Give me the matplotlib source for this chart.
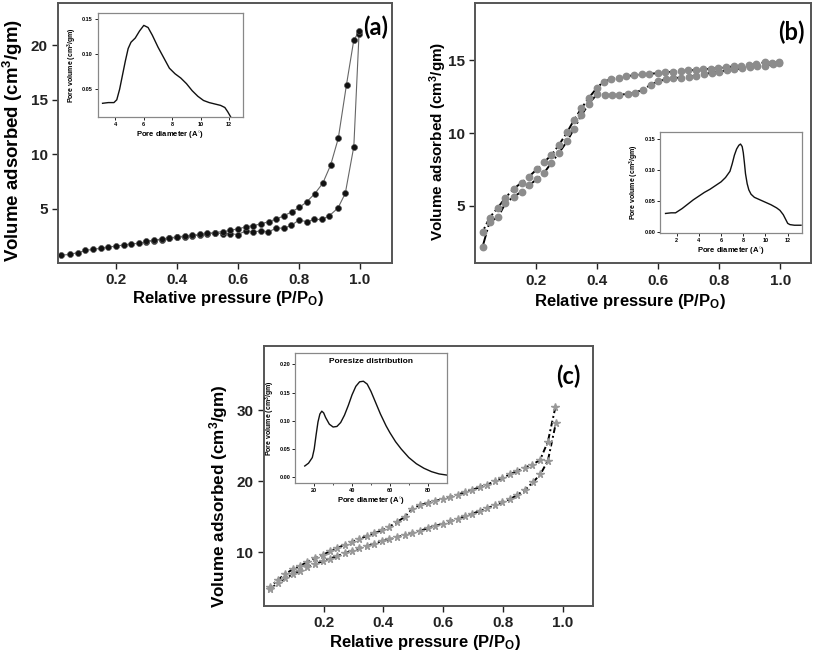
import numpy as np
import matplotlib.pyplot as plt

plt.rcParams['font.family'] = ['Liberation Sans', 'DejaVu Sans']
plt.rcParams['mathtext.fontset'] = 'custom'
plt.rcParams['mathtext.rm'] = 'Liberation Sans:bold'
plt.rcParams['mathtext.it'] = 'Liberation Sans:bold'
plt.rcParams['mathtext.bf'] = 'Liberation Sans:bold'

# ---- panel (a) isotherm ----
a_ads_p = [0.02, 0.05, 0.075, 0.10, 0.125, 0.15, 0.175, 0.20, 0.225, 0.25, 0.275, 0.30,
           0.325, 0.35, 0.375, 0.40, 0.425, 0.45, 0.475, 0.50, 0.525, 0.55, 0.575, 0.60,
           0.625, 0.65, 0.675, 0.70, 0.725, 0.75, 0.775, 0.80, 0.825, 0.85, 0.875, 0.90,
           0.928, 0.952, 0.98, 0.997]
a_ads_v = [0.7, 0.8, 0.95, 1.15, 1.25, 1.35, 1.45, 1.55, 1.65, 1.75, 1.8, 1.95,
           2.05, 2.15, 2.25, 2.35, 2.4, 2.5, 2.55, 2.65, 2.75, 2.7, 2.7, 2.6,
           2.95, 2.85, 2.95, 2.85, 3.2, 3.2, 3.45, 3.95, 3.8, 4.0, 4.0, 4.35,
           5.05, 6.4, 10.7, 21.0]
a_des_p = [0.998, 0.980, 0.956, 0.929, 0.904, 0.878, 0.852, 0.825, 0.801, 0.776, 0.75,
           0.725, 0.702, 0.676, 0.65, 0.625, 0.60, 0.575, 0.55, 0.525, 0.50, 0.475,
           0.45, 0.425, 0.40, 0.375, 0.35, 0.325, 0.30]
a_des_v = [21.3, 20.5, 16.4, 11.45, 9.0, 7.32, 6.37, 5.6, 5.1, 4.7, 4.32,
           4.05, 3.8, 3.6, 3.43, 3.31, 3.13, 3.0, 2.88, 2.8, 2.72, 2.62,
           2.55, 2.47, 2.4, 2.3, 2.2, 2.1, 2.0]

# ---- panel (a) inset: pore size distribution ----
a_psd_d = [3.1, 3.5, 3.9, 4.1, 4.3, 4.5, 4.7, 4.9, 5.1, 5.4, 5.7, 6.0, 6.3, 6.6, 7.0,
           7.4, 7.8, 8.2, 8.6, 9.0, 9.4, 9.8, 10.2, 10.6, 11.0, 11.4, 11.7, 11.9, 12.1]
a_psd_v = [0.030, 0.031, 0.031, 0.035, 0.050, 0.070, 0.090, 0.108, 0.117, 0.123, 0.133,
           0.141, 0.138, 0.127, 0.110, 0.095, 0.080, 0.072, 0.066, 0.058, 0.048, 0.040,
           0.034, 0.031, 0.029, 0.027, 0.024, 0.018, 0.011]

# ---- panel (b) isotherm ----
b_ads_p = [0.024, 0.047, 0.074, 0.099, 0.126, 0.152, 0.176, 0.202, 0.226, 0.250, 0.275,
           0.301, 0.324, 0.348, 0.373, 0.40, 0.424, 0.449, 0.473, 0.50, 0.525, 0.549,
           0.575, 0.60, 0.624, 0.649, 0.674, 0.70, 0.725, 0.75, 0.775, 0.80, 0.825,
           0.85, 0.875, 0.90, 0.925, 0.95, 0.975, 0.996]
b_ads_v = [2.18, 3.90, 4.20, 5.17, 5.62, 5.97, 6.41, 6.82, 7.27, 7.96, 8.65,
           9.43, 10.3, 11.22, 12.03, 12.69, 12.64, 12.62, 12.64, 12.69, 12.78, 12.99,
           13.31, 13.56, 13.70, 13.77, 13.82, 13.88, 13.95, 14.05, 14.15, 14.22, 14.32,
           14.38, 14.45, 14.52, 14.58, 14.64, 14.72, 14.85]
b_des_p = [0.996, 0.974, 0.949, 0.922, 0.897, 0.873, 0.847, 0.822, 0.797, 0.773, 0.747,
           0.723, 0.698, 0.674, 0.648, 0.623, 0.598, 0.57, 0.547, 0.522, 0.496, 0.471,
           0.446, 0.421, 0.40, 0.373, 0.348, 0.324, 0.301, 0.275, 0.250, 0.226, 0.202,
           0.176, 0.152, 0.126, 0.099, 0.074, 0.047, 0.024]
b_des_v = [14.89, 14.84, 14.87, 14.75, 14.68, 14.63, 14.59, 14.52, 14.47, 14.43, 14.38,
           14.34, 14.31, 14.27, 14.22, 14.18, 14.12, 14.07, 14.03, 13.98, 13.91, 13.82,
           13.70, 13.54, 13.13, 12.44, 11.7, 10.9, 10.05, 9.2, 8.49, 8.01, 7.51,
           7.0, 6.59, 6.17, 5.55, 4.87, 4.18, 3.21]

# ---- panel (b) inset ----
b_psd_d = [1.0, 1.5, 1.9, 2.5, 3.0, 3.5, 4.0, 4.5, 5.0, 5.5, 6.0, 6.4, 6.8, 7.0, 7.2,
           7.4, 7.6, 7.75, 7.9, 8.0, 8.1, 8.2, 8.35, 8.5, 8.7, 9.0, 9.5, 10.0, 10.5,
           11.0, 11.3, 11.6, 11.8, 12.0, 12.2, 12.6, 13.2]
b_psd_v = [0.030, 0.031, 0.031, 0.038, 0.045, 0.052, 0.058, 0.064, 0.069, 0.075, 0.081,
           0.088, 0.098, 0.110, 0.124, 0.134, 0.140, 0.142, 0.138, 0.128, 0.112, 0.094,
           0.078, 0.068, 0.061, 0.056, 0.052, 0.048, 0.044, 0.039, 0.035, 0.028, 0.021,
           0.014, 0.012, 0.011, 0.011]

# ---- panel (c) isotherm ----
c_ads_p = [0.022, 0.047, 0.072, 0.097, 0.122, 0.146, 0.172, 0.197, 0.221, 0.246, 0.271,
           0.296, 0.320, 0.345, 0.370, 0.395, 0.420, 0.446, 0.472, 0.497, 0.523, 0.549,
           0.573, 0.599, 0.623, 0.648, 0.672, 0.698, 0.722, 0.747, 0.772, 0.797, 0.823,
           0.847, 0.873, 0.900, 0.925, 0.950, 0.977]
c_ads_v = [4.88, 5.63, 6.33, 6.90, 7.41, 7.97, 8.35, 8.73, 9.10, 9.48, 9.86,
           10.23, 10.56, 10.89, 11.21, 11.55, 11.83, 12.11, 12.44, 12.76, 13.04, 13.38,
           13.70, 14.04, 14.37, 14.69, 15.07, 15.44, 15.82, 16.20, 16.62, 17.08, 17.46,
           18.07, 18.77, 19.86, 20.98, 22.9, 28.25]
c_des_p = [0.975, 0.950, 0.924, 0.898, 0.872, 0.847, 0.823, 0.797, 0.772, 0.747, 0.722,
           0.698, 0.672, 0.648, 0.623, 0.599, 0.573, 0.549, 0.523, 0.497, 0.472, 0.446,
           0.420, 0.395, 0.370, 0.345, 0.320, 0.296, 0.271, 0.246, 0.221, 0.197, 0.172,
           0.146, 0.122, 0.097, 0.072, 0.047, 0.022]
c_des_v = [30.4, 25.58, 23.0, 22.34, 21.92, 21.45, 20.98, 20.46, 20.0, 19.52, 19.15,
           18.82, 18.45, 18.11, 17.8, 17.5, 17.23, 16.94, 16.66, 16.14, 15.0, 14.27,
           13.6, 13.1, 12.68, 12.3, 11.87, 11.5, 11.07, 10.6, 10.14, 9.62, 9.2,
           8.68, 8.07, 7.6, 6.94, 6.1, 5.16]

# ---- panel (c) inset ----
c_psd_d = [15, 17, 19, 20, 21, 22, 23, 24, 25, 26, 28, 30, 32, 34, 36, 38, 40, 42, 44,
           46, 48, 50, 52, 55, 58, 60, 63, 66, 70, 74, 78, 82, 86, 90]
c_psd_v = [0.020, 0.025, 0.035, 0.050, 0.075, 0.098, 0.112, 0.117, 0.114, 0.106, 0.094,
           0.089, 0.090, 0.097, 0.110, 0.127, 0.146, 0.161, 0.169, 0.170, 0.165, 0.152,
           0.136, 0.112, 0.091, 0.079, 0.063, 0.050, 0.035, 0.024, 0.016, 0.010, 0.006,
           0.004]

ylab = 'Volume adsorbed (cm$^3$/gm)'
xlab = 'Relative pressure (P/P$_\\mathrm{O}$)'
spine_col = '#555555'


def style_main(ax, xlim, ylim, yticks):
    ax.set_xlim(*xlim)
    ax.set_ylim(*ylim)
    ax.set_xticks([0.2, 0.4, 0.6, 0.8, 1.0])
    ax.set_xticklabels(['0.2', '0.4', '0.6', '0.8', '1.0'])
    ax.set_yticks(yticks)
    ax.tick_params(direction='out', length=4, width=1, colors='#222222',
                   labelsize=11)
    for lab in ax.get_xticklabels() + ax.get_yticklabels():
        lab.set_fontweight('bold')
    for sp in ax.spines.values():
        sp.set_color(spine_col)
        sp.set_linewidth(1.4)


def place_labels(ax, xpos, ypos, ysize):
    ax.set_ylabel(ylab, fontsize=ysize, fontweight='bold', va='center')
    ax.yaxis.set_label_coords(*ypos)
    ax.set_xlabel(xlab, fontsize=12, fontweight='bold', va='center')
    ax.xaxis.set_label_coords(*xpos)


def style_inset(ax, xlim, ylim, xticks, yticks, yfmt):
    ax.set_xlim(*xlim)
    ax.set_ylim(*ylim)
    ax.set_xticks(xticks)
    ax.set_yticks(yticks)
    ax.set_yticklabels([yfmt.format(v) for v in yticks])
    ax.tick_params(direction='out', length=2, width=0.6, labelsize=4, pad=1.5)
    for lab in ax.get_xticklabels() + ax.get_yticklabels():
        lab.set_fontweight('bold')
    for sp in ax.spines.values():
        sp.set_color('#888888')
        sp.set_linewidth(0.9)
    ax.set_xlabel('Pore diameter (A$^{\\circ}$)', fontsize=5.5, fontweight='bold',
                  labelpad=1.5)
    ax.set_ylabel('Pore volume (cm$^3$/gm)', fontsize=5, fontweight='bold',
                  labelpad=2)


fig = plt.figure(figsize=(8.13, 6.54), dpi=100)

# ---- (a) ----
ax_a = fig.add_axes([0.0713, 0.5979, 0.4108, 0.3976])
ax_a.plot(a_ads_p, a_ads_v, color='#666666', lw=0.8, zorder=1)
ax_a.plot(a_des_p, a_des_v, color='#666666', lw=0.8, zorder=1)
ax_a.plot(a_ads_p, a_ads_v, 'o', ms=4.3, mfc='#111111', mec='#555555', mew=0.5, zorder=2)
ax_a.plot(a_des_p, a_des_v, 'o', ms=4.3, mfc='#111111', mec='#555555', mew=0.5, zorder=2)
style_main(ax_a, (0.01, 1.105), (0.0, 23.9), [5, 10, 15, 20])
ax_a.text(0.952, 0.905, '(a)', transform=ax_a.transAxes, fontsize=17,
          fontweight='bold', ha='center', va='center', family=['Lato', 'DejaVu Sans'])
place_labels(ax_a, (0.51, -0.138), (-0.135, 0.47), 13.4)

ins_a = fig.add_axes([0.1202, 0.8206, 0.1791, 0.1599])
ins_a.plot(a_psd_d, a_psd_v, color='#111111', lw=1.0)
style_inset(ins_a, (2.76, 13.0), (0.010, 0.159), [4, 6, 8, 10, 12],
            [0.05, 0.10, 0.15], '{:.2f}')

# ---- (b) ----
ax_b = fig.add_axes([0.5846, 0.5974, 0.4125, 0.3985])
ax_b.plot(b_ads_p, b_ads_v, color='black', lw=1.4, ls='-.', zorder=1)
ax_b.plot(b_des_p, b_des_v, color='black', lw=1.4, ls='-.', zorder=1)
ax_b.plot(b_ads_p, b_ads_v, 'o', ms=4.6, mfc='#8c8c8c', mec='#8c8c8c', zorder=2)
ax_b.plot(b_des_p, b_des_v, 'o', ms=4.6, mfc='#8c8c8c', mec='#8c8c8c', zorder=2)
style_main(ax_b, (0.0, 1.10), (1.04, 18.97), [5, 10, 15])
ax_b.text(0.944, 0.888, '(b)', transform=ax_b.transAxes, fontsize=17,
          fontweight='bold', ha='center', va='center', family=['Lato', 'DejaVu Sans'])
place_labels(ax_b, (0.46, -0.147), (-0.11, 0.467), 11)

ins_b = fig.add_axes([0.8118, 0.6433, 0.1743, 0.1554])
ins_b.plot(b_psd_d, b_psd_v, color='#111111', lw=1.0)
style_inset(ins_b, (0.5, 13.26), (-0.002, 0.162), [2, 4, 6, 8, 10, 12],
            [0.00, 0.05, 0.10, 0.15], '{:.2f}')

# ---- (c) ----
dash_c = (0, (3, 1.5, 1, 1.5))
ax_c = fig.add_axes([0.3244, 0.0739, 0.4054, 0.3976])
ax_c.plot(c_ads_p, c_ads_v, color='black', lw=1.4, ls=dash_c, zorder=1)
ax_c.plot(c_des_p, c_des_v, color='black', lw=1.4, ls=dash_c, zorder=1)
ax_c.plot(c_ads_p, c_ads_v, '*', ms=5.5, mfc='#999999', mec='#999999', zorder=2)
ax_c.plot(c_des_p, c_des_v, '*', ms=5.5, mfc='#999999', mec='#999999', zorder=2)
style_main(ax_c, (0.0, 1.102), (2.48, 39.1), [10, 20, 30])
ax_c.text(0.925, 0.881, '(c)', transform=ax_c.transAxes, fontsize=17,
          fontweight='bold', ha='center', va='center', family=['Lato', 'DejaVu Sans'])
place_labels(ax_c, (0.49, -0.142), (-0.138, 0.42), 12.3)

ins_c = fig.add_axes([0.3632, 0.2610, 0.1862, 0.1997])
ins_c.plot(c_psd_d, c_psd_v, color='#111111', lw=1.0)
style_inset(ins_c, (10, 90), (-0.0106, 0.2205), [20, 40, 60, 80],
            [0.00, 0.05, 0.10, 0.15, 0.20], '{:.2f}')
ins_c.set_xticks([30, 50, 70], minor=True)
ins_c.tick_params(which='minor', direction='out', length=1.5, width=0.5)
ins_c.text(0.5, 0.93, 'Poresize distribution', transform=ins_c.transAxes,
           fontsize=6, fontweight='bold', ha='center', va='center')

fig.savefig('out.png', dpi=100)
